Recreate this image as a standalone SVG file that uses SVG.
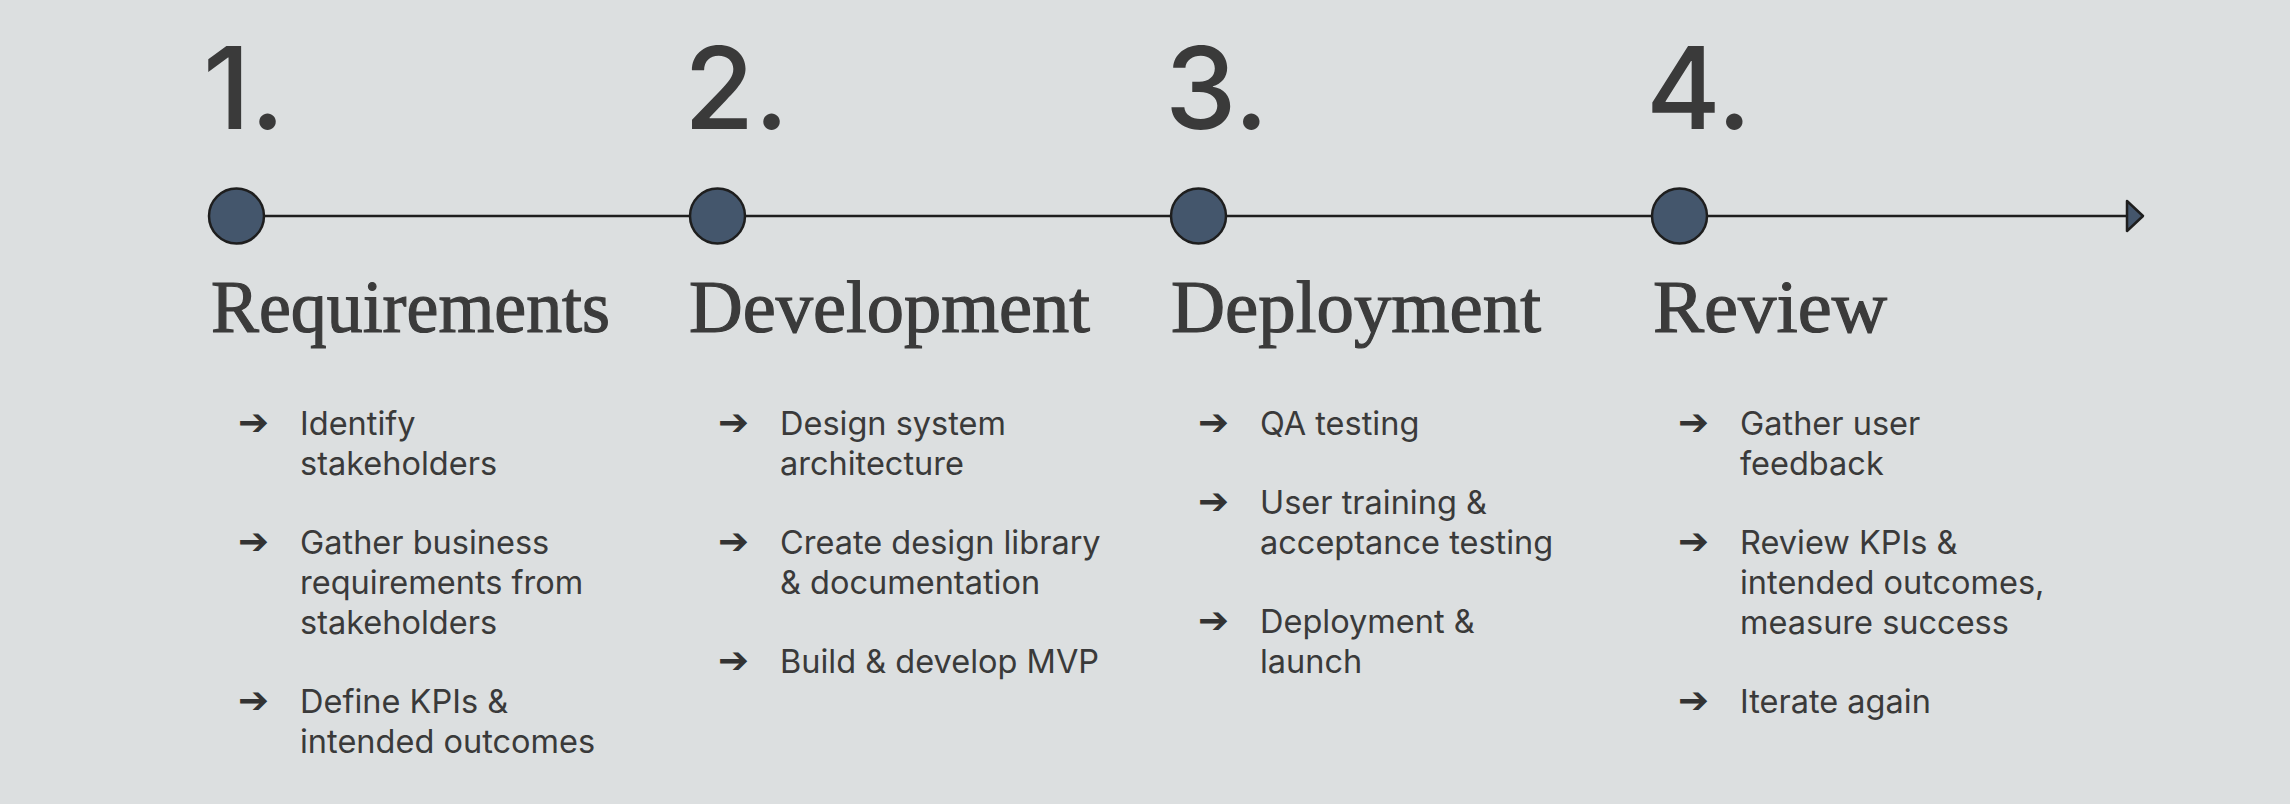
<svg xmlns="http://www.w3.org/2000/svg" width="2290" height="804" viewBox="0 0 2290 804">
<defs>
<marker id="ah" viewBox="0 0 20 34" refX="2" refY="17" markerWidth="20" markerHeight="34" markerUnits="userSpaceOnUse" orient="auto">
<path d="M2,2 L18,17 L2,32 Z" fill="#44566c" stroke="#1e1e1e" stroke-width="2.5" stroke-linejoin="round"/>
</marker>
<style>
.num{font-family:Inter,"Liberation Sans",sans-serif;font-size:114px;font-weight:500;fill:#3a3a3a;}
.ttl{font-family:"Liberation Serif",serif;font-size:74px;fill:#3b3b3b;stroke:#3b3b3b;stroke-width:1.2;}
.txt{font-family:Inter,"Liberation Sans",sans-serif;font-size:32.5px;fill:#3a3a3a;}
.bul{font-family:"DejaVu Sans",sans-serif;font-size:37px;fill:#333333;}
.dot{fill:#44566c;stroke:#1e1e1e;stroke-width:2.5;}
</style>
</defs>
<rect width="2290" height="804" fill="#dcdfe0"/>
<g id="connectors">
<line x1="236.5" y1="216" x2="2127" y2="216" stroke="#1e1e1e" stroke-width="2.5" marker-end="url(#ah)"/>
</g>
<g id="step1">
<text class="num" x="203" y="129">1.</text>
<circle class="dot" cx="236.5" cy="216" r="27.5"/>
<text class="ttl" x="211" y="332" textLength="399" lengthAdjust="spacingAndGlyphs">Requirements</text>
<text class="bul" x="238" y="435">➔</text>
<text class="txt" x="300" y="435">Identify</text>
<text class="txt" x="300" y="475">stakeholders</text>
<text class="bul" x="238" y="554">➔</text>
<text class="txt" x="300" y="554">Gather business</text>
<text class="txt" x="300" y="594">requirements from</text>
<text class="txt" x="300" y="634">stakeholders</text>
<text class="bul" x="238" y="713">➔</text>
<text class="txt" x="300" y="713">Define KPIs &amp;</text>
<text class="txt" x="300" y="753">intended outcomes</text>
</g>
<g id="step2">
<text class="num" x="684" y="129">2.</text>
<circle class="dot" cx="717.5" cy="216" r="27.5"/>
<text class="ttl" x="689" y="332" textLength="401" lengthAdjust="spacingAndGlyphs">Development</text>
<text class="bul" x="718" y="435">➔</text>
<text class="txt" x="780" y="435">Design system</text>
<text class="txt" x="780" y="475">architecture</text>
<text class="bul" x="718" y="554">➔</text>
<text class="txt" x="780" y="554">Create design library</text>
<text class="txt" x="780" y="594">&amp; documentation</text>
<text class="bul" x="718" y="673">➔</text>
<text class="txt" x="780" y="673">Build &amp; develop MVP</text>
</g>
<g id="step3">
<text class="num" x="1165" y="129">3.</text>
<circle class="dot" cx="1198.5" cy="216" r="27.5"/>
<text class="ttl" x="1171" y="332" textLength="370" lengthAdjust="spacingAndGlyphs">Deployment</text>
<text class="bul" x="1198" y="435">➔</text>
<text class="txt" x="1260" y="435">QA testing</text>
<text class="bul" x="1198" y="514">➔</text>
<text class="txt" x="1260" y="514">User training &amp;</text>
<text class="txt" x="1260" y="554">acceptance testing</text>
<text class="bul" x="1198" y="633">➔</text>
<text class="txt" x="1260" y="633">Deployment &amp;</text>
<text class="txt" x="1260" y="673">launch</text>
</g>
<g id="step4">
<text class="num" x="1646" y="129">4.</text>
<circle class="dot" cx="1679.5" cy="216" r="27.5"/>
<text class="ttl" x="1653" y="332" textLength="234" lengthAdjust="spacingAndGlyphs">Review</text>
<text class="bul" x="1678" y="435">➔</text>
<text class="txt" x="1740" y="435">Gather user</text>
<text class="txt" x="1740" y="475">feedback</text>
<text class="bul" x="1678" y="554">➔</text>
<text class="txt" x="1740" y="554">Review KPIs &amp;</text>
<text class="txt" x="1740" y="594">intended outcomes,</text>
<text class="txt" x="1740" y="634">measure success</text>
<text class="bul" x="1678" y="713">➔</text>
<text class="txt" x="1740" y="713">Iterate again</text>
</g>
</svg>
